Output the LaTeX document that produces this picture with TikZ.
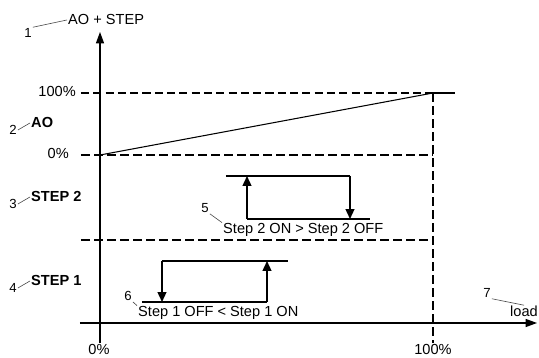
\documentclass[tikz,border=0pt]{standalone}
\usepackage{fontspec}
\setmainfont{Liberation Sans}
\usetikzlibrary{arrows.meta}

\begin{document}
\begin{tikzpicture}[
  x=0.02cm, y=-0.02cm,
  line join=miter,
  axis/.style={line width=0.6pt, -{Triangle[length=6.5pt,width=4.6pt]}},
  level/.style={line width=1.6pt, dash pattern=on 5pt off 2.4pt},
  guide/.style={line width=0.6pt, dash pattern=on 4.6pt off 2.4pt},
  curve/.style={line width=0.6pt},
  loop/.style={line width=0.85pt},
  flow/.style={loop, -{Triangle[length=5.6pt,width=5pt]}},
  leader/.style={line width=0.35pt, black!70},
  txt/.style={font=\fontsize{8.3}{9}\selectfont, inner sep=0.5pt},
  tag/.style={font=\fontsize{7.5}{9}\selectfont, inner sep=0.5pt},
  rowlabel/.style={font=\fontsize{8.3}{9}\selectfont\bfseries, inner sep=0.5pt},
]
\useasboundingbox (0,0) rectangle (539,358);

% ── axes ──────────────────────────────────────────────────────────────────
\draw[axis] (100,343) -- (100,32);
\draw[axis] (80,323) -- (537,323);

\node[txt, anchor=base west] (aostep) at (67,25) {AO + STEP};
\node[tag] (tag1) at (28,33) {1};
\draw[leader] (tag1.north east) -- (aostep.west);

\node[txt, anchor=base west] (load) at (509,317) {load};
\node[tag] (tag7) at (487,293) {7};
\draw[leader] (tag7.south east) -- (load.north);

\node[txt, anchor=north] (xzero) at (99,343) {0\%};
\node[txt, anchor=north] (xfull) at (433,343) {100\%};

% ── levels: AO band, step bands and the full-load line ───────────────────
\node[txt, anchor=base east] (yfull) at (77,97) {100\%};
\node[txt, anchor=base east] (yzero) at (70,159) {0\%};

\draw[guide] (81,93) -- (433,93);
\draw[curve] (433,93) -- (455,93);
\draw[level] (81,155) -- (433,155);
\draw[level] (81,240) -- (433,240);
\draw[level] (433,93) -- (433,343);

% the AO ramp, 0% at no load up to 100% at full load
\draw[curve] (100,155) -- (433,93);

% ── row names at the left ─────────────────────────────────────────────────
\foreach \tagno/\ybase/\rowname in {2/128/AO, 3/202/STEP 2, 4/286/STEP 1} {
  \node[rowlabel, anchor=base west] (row\tagno) at (30,\ybase) {\rowname};
  \node[tag] (tag\tagno) at (13,\ybase+2) {\tagno};
  \draw[leader] (tag\tagno.east) -- (row\tagno.west);
}

% ── step 2: switches on above, off below ─────────────────────────────────
\draw[loop] (226,176) -- (350,176);
\draw[flow] (350,176) -- (350,219);
\draw[loop] (247,219) -- (370,219);
\draw[flow] (247,219) -- (247,176);

\node[txt, anchor=base west] (hys2) at (222,234) {Step 2 ON > Step 2 OFF};
\node[tag] (tag5) at (205,208) {5};
\draw[leader] (tag5.south east) -- (hys2.north west);

% ── step 1: the loop the other way round ─────────────────────────────────
\draw[loop] (162,261) -- (288,261);
\draw[flow] (162,261) -- (162,302);
\draw[loop] (142,302) -- (267,302);
\draw[flow] (267,302) -- (267,261);

\node[txt, anchor=base west] (hys1) at (137,317) {Step 1 OFF < Step 1 ON};
\node[tag] (tag6) at (128,296) {6};
\draw[leader] (tag6.south east) -- (hys1.north west);

\end{tikzpicture}
\end{document}
